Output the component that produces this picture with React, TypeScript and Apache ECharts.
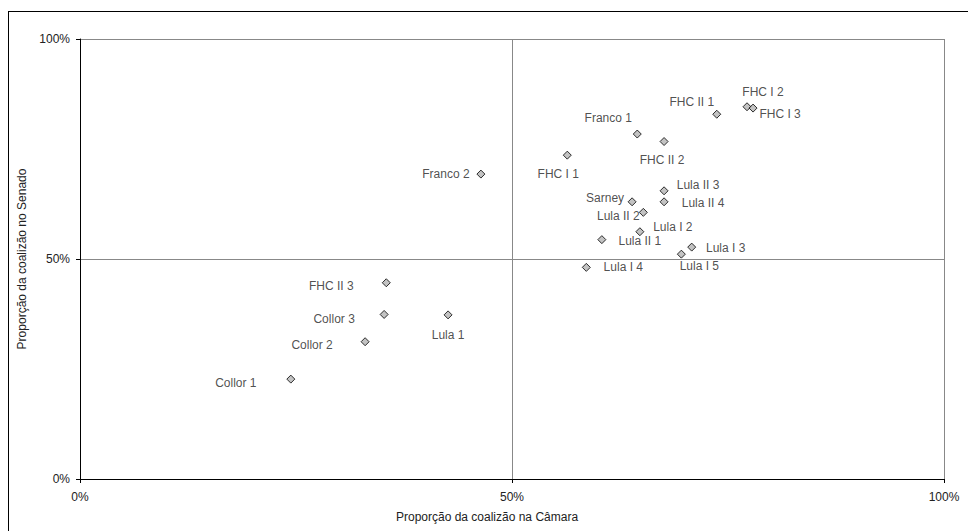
import React, { useEffect, useRef } from "react";
import * as echarts from "echarts";

const names = [
  "FHC II 1", "FHC I 2", "FHC I 3", "Franco 1", "FHC II 2", "FHC I 1",
  "Lula II 3", "Sarney", "Lula II 4", "Lula II 2", "Lula I 2", "Lula II 1",
  "Lula I 3", "Lula I 5", "Lula I 4", "Franco 2", "FHC II 3", "Collor 3",
  "Lula 1", "Collor 2", "Collor 1",
];
const camara = [
  0.737, 0.772, 0.779, 0.645, 0.676, 0.564,
  0.676, 0.639, 0.676, 0.652, 0.648, 0.604,
  0.708, 0.696, 0.586, 0.464, 0.3545, 0.352,
  0.426, 0.330, 0.244,
];
const senado = [
  0.829, 0.846, 0.843, 0.784, 0.767, 0.736,
  0.655, 0.630, 0.630, 0.606, 0.562, 0.544,
  0.527, 0.511, 0.481, 0.693, 0.446, 0.374,
  0.373, 0.312, 0.227,
];
const tickValues = [0, 0.5, 1];
const tickLabels = ["0%", "50%", "100%"];
const xTitle = "Proporção da coalizão na Câmara";
const yTitle = "Proporção da coalizão no Senado";

// label placement (pixel offsets of the label centre from its marker)
const labelOffsets: [number, number][] = [
  [-25, -12], [16, -15], [27, 6], [-29, -16], [-2, 18], [-9, 19],
  [34, -6], [-27, -4], [39, 1], [-25, 4], [33, -5], [38, 1],
  [34, 1], [18, 12], [37, 0], [-35, 0], [-55, 3], [-50, 5],
  [0, 20], [-53, 3], [-55, 4],
];

const FONT = "'Liberation Sans', Arial, sans-serif";
const TEXT = "#222";

export default function App() {
  const ref = useRef<HTMLDivElement>(null);
  useEffect(() => {
    if (!ref.current) return;
    const chart = echarts.init(ref.current, null, { renderer: "svg" });
    const fmt = (v: number) => {
      const i = tickValues.findIndex((t) => Math.abs(t - v) < 1e-9);
      return i >= 0 ? tickLabels[i] : "";
    };
    chart.setOption({
      animation: false,
      textStyle: { fontFamily: FONT },
      grid: { left: 80, top: 39, width: 864, height: 440 },
      xAxis: {
        type: "value",
        min: 0,
        max: 1,
        interval: 0.5,
        name: xTitle,
        nameLocation: "middle",
        nameGap: 32,
        nameTextStyle: { color: TEXT, fontSize: 12, fontFamily: FONT, padding: [0, 50, 0, 0] },
        axisLine: { show: true, lineStyle: { color: "#000", width: 1 } },
        axisTick: { show: true, length: 4, lineStyle: { color: "#000" } },
        axisLabel: { color: TEXT, fontSize: 12, fontFamily: FONT, margin: 12, formatter: fmt },
        splitLine: { show: true, lineStyle: { color: "#888", width: 1 } },
      },
      yAxis: {
        type: "value",
        min: 0,
        max: 1,
        interval: 0.5,
        name: yTitle,
        nameLocation: "middle",
        nameGap: 46,
        nameTextStyle: { color: TEXT, fontSize: 12, fontFamily: FONT },
        axisLine: { show: true, lineStyle: { color: "#000", width: 1 } },
        axisTick: { show: true, length: 4, lineStyle: { color: "#000" } },
        axisLabel: { color: TEXT, fontSize: 12, fontFamily: FONT, margin: 10, formatter: fmt },
        splitLine: { show: true, lineStyle: { color: "#888", width: 1 } },
      },
      series: [
        {
          type: "scatter",
          symbol: "diamond",
          symbolSize: 8,
          itemStyle: { color: "#b4b4b4", borderColor: "#000", borderWidth: 1 },
          label: {
            show: true,
            position: "inside",
            color: TEXT,
            fontSize: 12,
            fontFamily: FONT,
            formatter: (p: any) => p.name,
          },
          data: names.map((n, i) => ({
            name: n,
            value: [camara[i], senado[i]],
            label: { offset: labelOffsets[i] },
          })),
        },
      ],
    });
    return () => chart.dispose();
  }, []);

  return (
    <div style={{ position: "absolute", left: 0, top: 0, width: 968, height: 531, overflow: "hidden", background: "#fff" }}>
      <div
        style={{
          position: "absolute",
          left: 8,
          top: 11,
          width: 1000,
          height: 600,
          borderTop: "1px solid #000",
          borderLeft: "1px solid #000",
        }}
      />
      <div ref={ref} style={{ position: "absolute", left: 0, top: 0, width: 968, height: 531 }} />
    </div>
  );
}
